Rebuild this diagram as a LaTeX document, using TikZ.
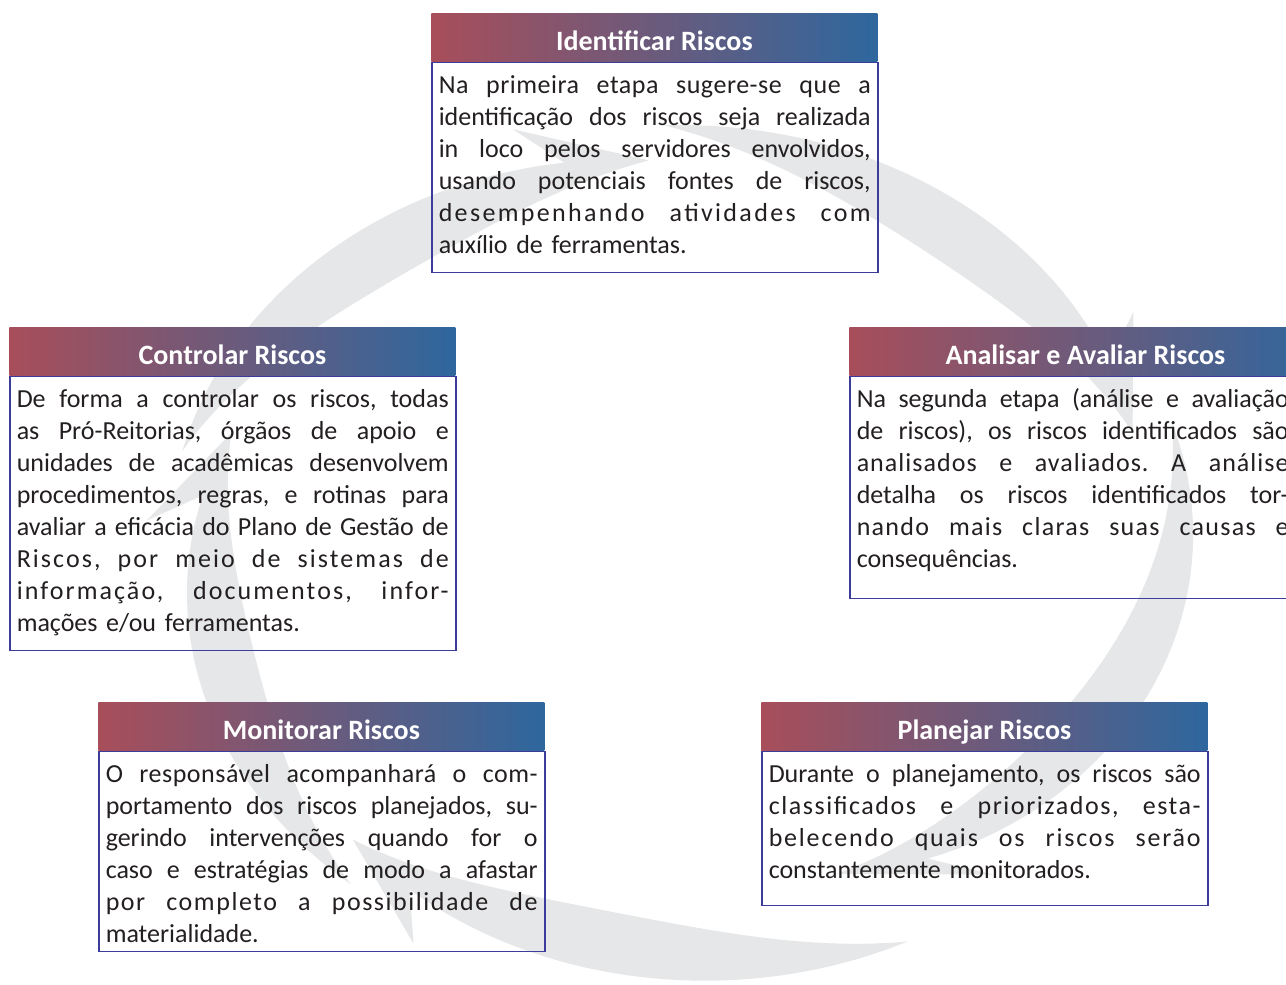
\documentclass[tikz,border=0pt]{standalone}
\usepackage{fontspec}
\setmainfont{Carlito}
\usepackage{tikz}
\usetikzlibrary{positioning}
\definecolor{headleft}{RGB}{168,78,90}
\definecolor{headright}{RGB}{46,103,158}
\definecolor{boxline}{RGB}{60,60,155}
\definecolor{bodytext}{RGB}{35,31,32}
\definecolor{swirlgray}{RGB}{230,231,232}
\newlength{\txtw}
\setlength{\txtw}{216pt}
\newcommand{\jline}[2][0]{\noindent\makebox[\txtw][s]{\addfontfeature{LetterSpace=#1}%
  \frenchspacing\spaceskip=.22em plus 1fil minus .05em\strut#2}\par}
\newcommand{\lline}[1]{\noindent\strut#1\par}
\tikzset{
  headbox/.style = {minimum width=223pt, minimum height=24pt, inner sep=0pt,
    text height=13pt, text depth=0pt,
    left color=headleft, right color=headright, text=white,
    font=\fontsize{14}{16}\selectfont\bfseries},
  textbox/.style = {draw=boxline, line width=0.75pt, text width=\txtw,
    inner xsep=3.5pt, inner ysep=4.5pt, text=bodytext,
    font=\fontsize{13}{16}\selectfont},
  swirl/.style = {fill=swirlgray}
}

\begin{document}
\begin{tikzpicture}[x=0.5pt, y=-0.5pt]
  \useasboundingbox (0,0) rectangle (1286,985);
  \clip (0,0) rectangle (1286,985);
  \foreach \ta/\tp/\k in {92/18/0.08, 18/-68/0.2, -64/-134/0.08, -130/-198/0.08, -194/-266/0.08}{
    \fill[swirl] plot[domain=0:0.86, samples=40, variable=\pos]
        ({682+515*(1-\k*\pos*\pos)*cos(\ta+((\tp)-(\ta))*\pos)},
         {555-430*(1-\k*\pos*\pos)*sin(\ta+((\tp)-(\ta))*\pos)})
      -- ({682+566*(1-0.64*\k)*cos(\ta+((\tp)-(\ta))*0.8)}, {555-473*(1-0.64*\k)*sin(\ta+((\tp)-(\ta))*0.8)})
      -- ({682+515*(1-\k)*cos(\tp)}, {555-430*(1-\k)*sin(\tp)})
      -- plot[domain=1:0, samples=40, variable=\pos]
        ({682+(515*(1-\k*\pos*\pos)-60*sin(180*\pos))*cos(\ta+((\tp)-(\ta))*\pos)},
         {555-(430*(1-\k*\pos*\pos)-60*sin(180*\pos))*sin(\ta+((\tp)-(\ta))*\pos)})
      -- cycle;
  }

  \node[headbox, anchor=north west] (ident) at (431,13) {Identificar Riscos};
  \node[textbox, below=0pt of ident.south west, anchor=north west] (identtext) {%
    \jline[2]{Na primeira etapa sugere-se que a}
    \jline{identificação dos riscos seja realizada}
    \jline{in loco pelos servidores envolvidos,}
    \jline{usando potenciais fontes de riscos,}
    \jline[9]{desempenhando atividades com}
    \lline{auxílio de ferramentas.}};

  \node[headbox, minimum width=236pt, anchor=north west] (anal) at (849,327) {Analisar e Avaliar Riscos};
  \node[textbox, text depth=90.8pt, below=0pt of anal.south west, anchor=north west] (analtext) {%
    \jline{Na segunda etapa (análise e avaliação}
    \jline{de riscos), os riscos identificados são}
    \jline[4]{analisados e avaliados. A análise}
    \jline{detalha os riscos identificados tor-}
    \jline[5]{nando mais claras suas causas e}
    \lline{consequências.}};

  \node[headbox, anchor=north west] (plan) at (761,702) {Planejar Riscos};
  \node[textbox, text depth=56.8pt, below=0pt of plan.south west, anchor=north west] (plantext) {%
    \jline{Durante o planejamento, os riscos são}
    \jline[6]{classificados e priorizados, esta-}
    \jline[7]{belecendo quais os riscos serão}
    \lline{constantemente monitorados.}};

  \node[headbox, anchor=north west] (monit) at (98,702) {Monitorar Riscos};
  \node[textbox, text depth=79.8pt, below=0pt of monit.south west, anchor=north west] (monittext) {%
    \jline[2]{O responsável acompanhará o com-}
    \jline{portamento dos riscos planejados, su-}
    \jline{gerindo intervenções quando for o}
    \jline{caso e estratégias de modo a afastar}
    \jline[6]{por completo a possibilidade de}
    \lline{materialidade.}};

  \node[headbox, anchor=north west] (ctrl) at (9,327) {Controlar Riscos};
  \node[textbox, below=0pt of ctrl.south west, anchor=north west] (ctrltext) {%
    \jline{De forma a controlar os riscos, todas}
    \jline{as Pró-Reitorias, órgãos de apoio e}
    \jline{unidades de acadêmicas desenvolvem}
    \jline{procedimentos, regras, e rotinas para}
    \jline{avaliar a eficácia do Plano de Gestão de}
    \jline[8]{Riscos, por meio de sistemas de}
    \jline[8]{informação, documentos, infor-}
    \lline{mações e/ou ferramentas.}};
\end{tikzpicture}
\end{document}
